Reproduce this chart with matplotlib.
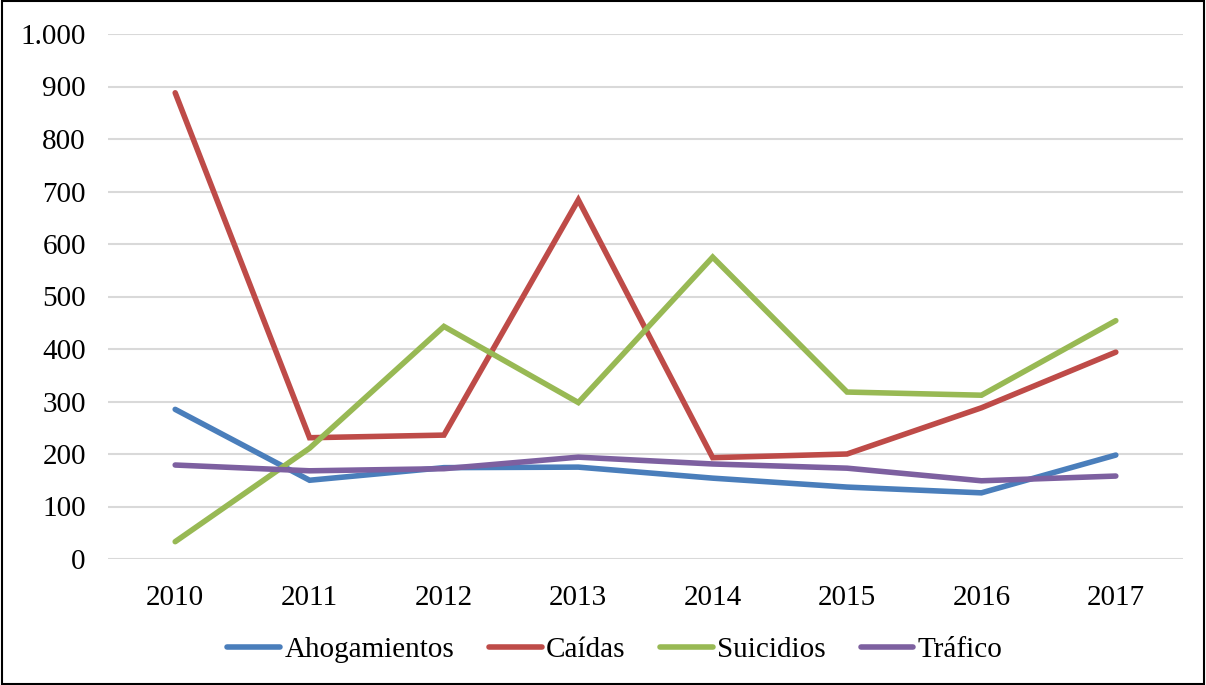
import matplotlib
matplotlib.use('Agg')
import matplotlib.pyplot as plt
from matplotlib.patches import Rectangle
from matplotlib.ticker import FuncFormatter

years = ['2010', '2011', '2012', '2013', '2014', '2015', '2016', '2017']
ahogamientos = [285, 150, 174, 175, 154, 137, 126, 198]
caidas = [888, 231, 236, 684, 193, 200, 288, 394]
suicidios = [33, 211, 443, 298, 575, 318, 312, 454]
trafico = [179, 168, 172, 194, 181, 173, 149, 158]

series = [('Ahogamientos', ahogamientos, '#4a7ebb'),
          ('Caídas', caidas, '#be4b48'),
          ('Suicidios', suicidios, '#98b954'),
          ('Tráfico', trafico, '#7d60a0')]

plt.rcParams['font.family'] = ['Liberation Serif', 'DejaVu Serif']

fig = plt.figure(figsize=(12.06, 6.85), dpi=100)
ax = fig.add_axes([108/1206, 1-559/685, (1183-108)/1206, (559-34)/685])

x = list(range(len(years)))
for name, vals, col in series:
    ax.plot(x, vals, color=col, lw=4, label=name, solid_capstyle='round', solid_joinstyle='miter')

ax.set_xlim(-0.5, 7.5)
ax.set_ylim(0, 1000)
ax.set_yticks(range(0, 1001, 100))
ax.yaxis.set_major_formatter(FuncFormatter(lambda v, p: f'{int(v):,}'.replace(',', '.')))
ax.set_xticks(x)
ax.set_xticklabels(years)
ax.grid(axis='y', color='#d9d9d9', lw=1.5)
ax.set_axisbelow(True)
for s in ax.spines.values():
    s.set_visible(False)
ax.tick_params(axis='both', length=0, labelsize=21)
ax.tick_params(axis='y', pad=16)
ax.tick_params(axis='x', pad=19)

leg = fig.legend(loc='center', bbox_to_anchor=(615/1206, 1-650/685), ncol=4, frameon=False,
                 fontsize=21, handlelength=1.8, handletextpad=0.15, columnspacing=1.2)

fig.patches.append(Rectangle((0.002, 0.002), 0.996, 0.996, transform=fig.transFigure,
                             fill=False, edgecolor='black', lw=1.5))

fig.savefig('out.png', dpi=100)
